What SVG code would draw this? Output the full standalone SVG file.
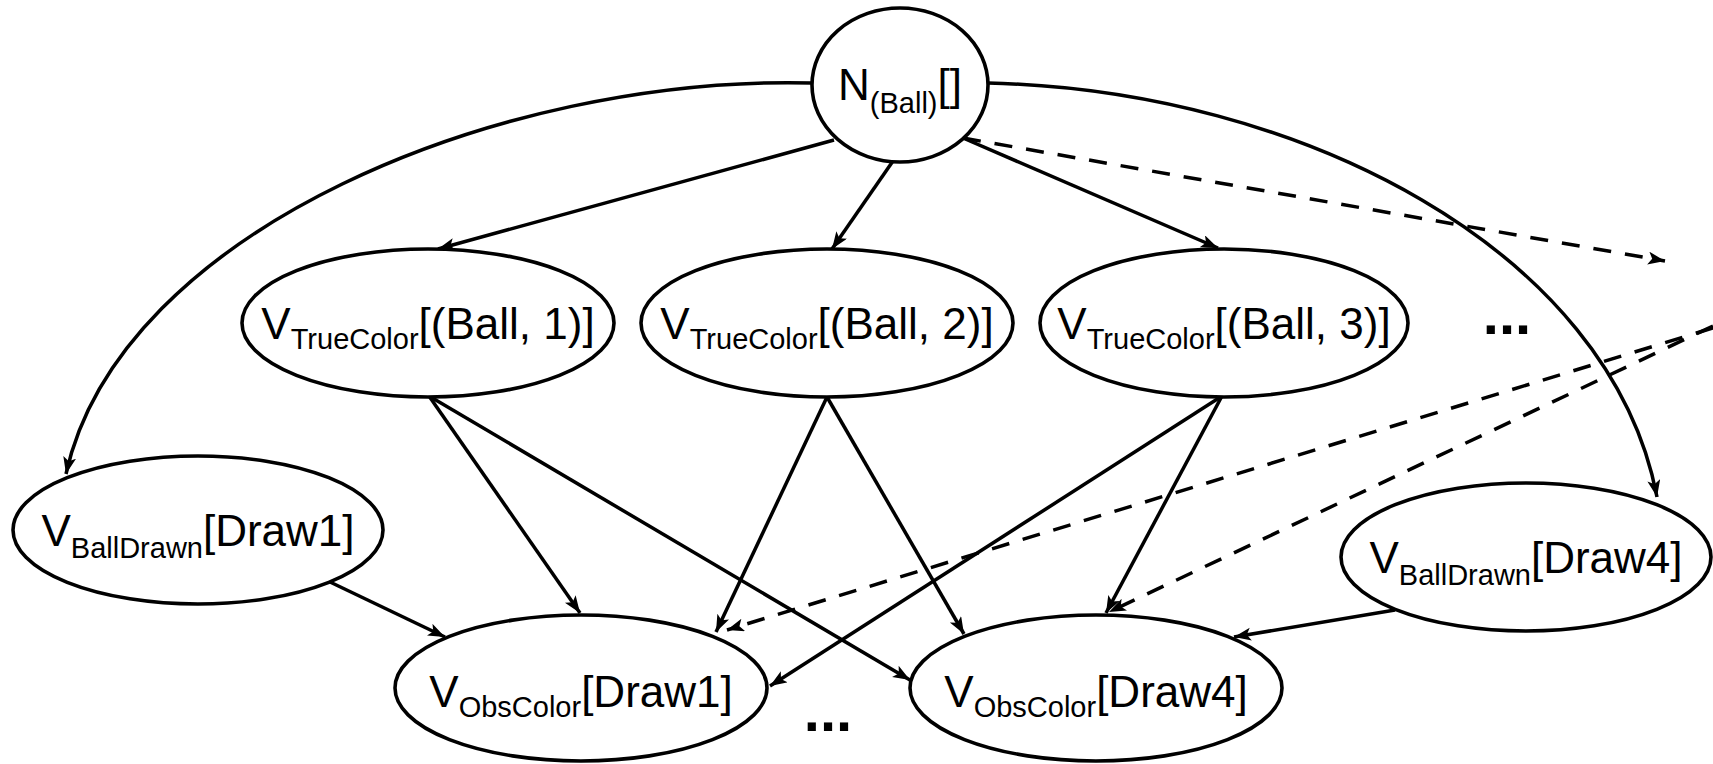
<svg xmlns="http://www.w3.org/2000/svg" width="1713" height="764" viewBox="0 0 1713 764">
<defs>
<marker id="ah" markerUnits="userSpaceOnUse" markerWidth="20" markerHeight="14" refX="17" refY="6.5" orient="auto">
<path d="M0,0 L17,6.5 L0,13 L4,6.5 z" fill="#000"/>
</marker>
<style>
.nd{fill:#fff;stroke:#000;stroke-width:3.6}
.t{font-family:"Liberation Sans",Arial,Helvetica,sans-serif;font-size:44px;fill:#000}
.s{font-size:29px}
.e{stroke:#000;stroke-width:3.5;fill:none;marker-end:url(#ah)}
.d{stroke-dasharray:18 14}
.dots{font-family:"Liberation Sans",Arial,sans-serif;font-size:58px;font-weight:bold;fill:#000}
</style>
</defs>
<rect width="1713" height="764" fill="#fff"/>
<g id="connectors">
<path class="e" d="M812,83 C500,75 120,230 66,474"/>
<path class="e" d="M988,83 C1300,90 1610,250 1657,497"/>
<line class="e" x1="834" y1="140" x2="438" y2="249"/>
<line class="e" x1="893" y1="161" x2="832" y2="249"/>
<line class="e" x1="963" y1="138" x2="1218" y2="248"/>
<line class="e d" x1="963" y1="138" x2="1665" y2="261"/>
<line class="e" x1="429" y1="396" x2="580" y2="613"/>
<line class="e" x1="429" y1="396" x2="910" y2="680"/>
<line class="e" x1="827" y1="397" x2="716" y2="632"/>
<line class="e" x1="827" y1="397" x2="964" y2="634"/>
<line class="e" x1="1222" y1="396" x2="770" y2="686"/>
<line class="e" x1="1222" y1="396" x2="1106" y2="613"/>
<line class="e" x1="330" y1="582" x2="445" y2="637"/>
<line class="e" x1="1395" y1="610" x2="1234" y2="637"/>
<line class="e d" x1="1713" y1="328" x2="727" y2="630"/>
<line class="e d" x1="1713" y1="326" x2="1109" y2="612"/>
</g>
<g id="n_ball">
<ellipse class="nd" cx="900" cy="85" rx="88" ry="77"/>
<text class="t" x="900" y="100" text-anchor="middle">N<tspan class="s" dy="13">(Ball)</tspan><tspan dy="-13">[]</tspan></text>
</g>
<g id="v_truecolor_1">
<ellipse class="nd" cx="428" cy="323" rx="186" ry="74"/>
<text class="t" x="428" y="339" text-anchor="middle">V<tspan class="s" dy="10">TrueColor</tspan><tspan dy="-10">[(Ball, 1)]</tspan></text>
</g>
<g id="v_truecolor_2">
<ellipse class="nd" cx="827" cy="323" rx="186" ry="74"/>
<text class="t" x="827" y="339" text-anchor="middle">V<tspan class="s" dy="10">TrueColor</tspan><tspan dy="-10">[(Ball, 2)]</tspan></text>
</g>
<g id="v_truecolor_3">
<ellipse class="nd" cx="1224" cy="323" rx="184" ry="74"/>
<text class="t" x="1224" y="339" text-anchor="middle">V<tspan class="s" dy="10">TrueColor</tspan><tspan dy="-10">[(Ball, 3)]</tspan></text>
</g>
<g id="dots_top">
<text class="dots" x="1507" y="334" text-anchor="middle">...</text>
</g>
<g id="v_balldrawn_1">
<ellipse class="nd" cx="198" cy="530" rx="185" ry="74"/>
<text class="t" x="198" y="546" text-anchor="middle">V<tspan class="s" dy="12">BallDrawn</tspan><tspan dy="-12">[Draw1]</tspan></text>
</g>
<g id="v_balldrawn_4">
<ellipse class="nd" cx="1526" cy="557" rx="185" ry="74"/>
<text class="t" x="1526" y="573" text-anchor="middle">V<tspan class="s" dy="12">BallDrawn</tspan><tspan dy="-12">[Draw4]</tspan></text>
</g>
<g id="v_obscolor_1">
<ellipse class="nd" cx="581" cy="688" rx="186" ry="73"/>
<text class="t" x="581" y="707" text-anchor="middle">V<tspan class="s" dy="10">ObsColor</tspan><tspan dy="-10">[Draw1]</tspan></text>
</g>
<g id="v_obscolor_4">
<ellipse class="nd" cx="1096" cy="688" rx="186" ry="73"/>
<text class="t" x="1096" y="707" text-anchor="middle">V<tspan class="s" dy="10">ObsColor</tspan><tspan dy="-10">[Draw4]</tspan></text>
</g>
<g id="dots_bottom">
<text class="dots" x="828" y="731" text-anchor="middle">...</text>
</g>
</svg>
